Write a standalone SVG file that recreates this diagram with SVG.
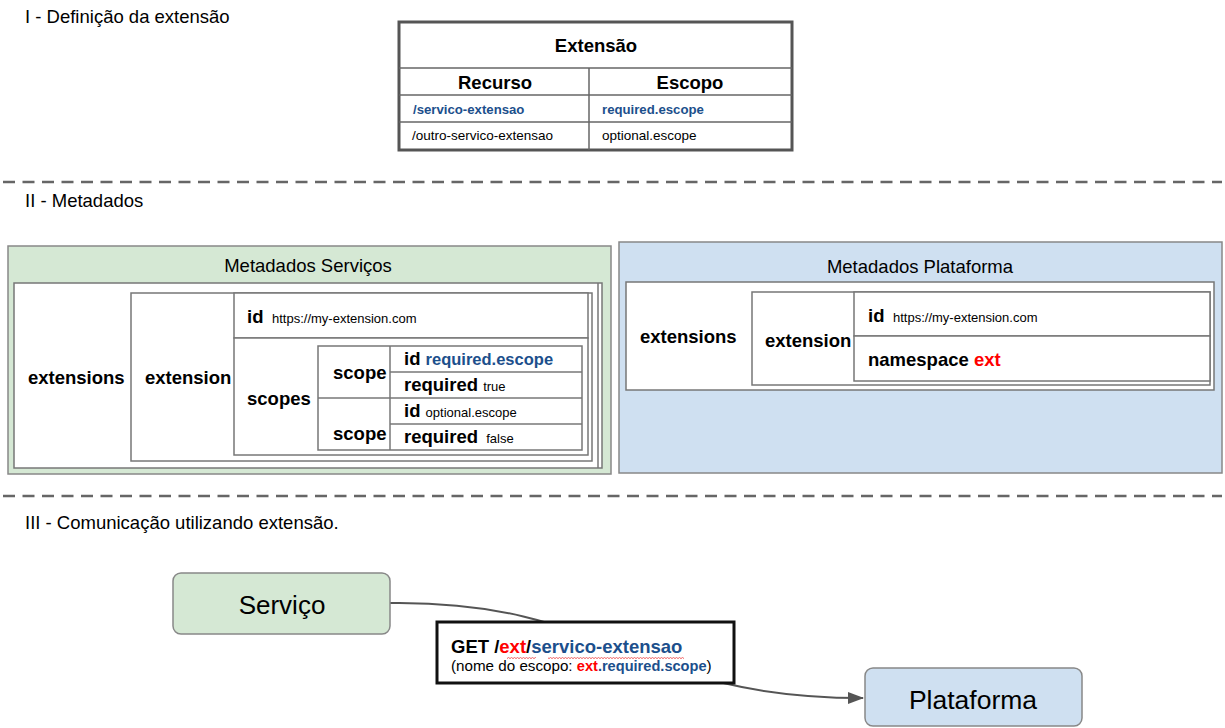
<svg xmlns="http://www.w3.org/2000/svg" width="1225" height="728" viewBox="0 0 1225 728">
<defs>
<marker id="arr" markerWidth="16" markerHeight="12" refX="15" refY="6" orient="auto" markerUnits="userSpaceOnUse">
<path d="M0,0 L16,6 L0,12 Z" fill="#555"/>
</marker>
<pattern id="sq" width="6" height="4" patternUnits="userSpaceOnUse">
<path d="M0,3 L1.5,1 L3,3 L4.5,1 L6,3" fill="none" stroke="#f06060" stroke-width="0.8"/>
</pattern>
</defs>
<style>
text{font-family:"Liberation Sans",Arial,sans-serif;fill:#000}
.sec{font-size:18.5px}
.b{font-weight:bold}
.blue{fill:#1c4f8c}
.red{fill:#ff0000}
.cell{fill:#fff;stroke:#777;stroke-width:1.5}
.line{stroke:#777;stroke-width:1.5}
.dash{stroke:#666;stroke-width:2.5;stroke-dasharray:12 7.5}
</style>
<rect width="1225" height="728" fill="#fff"/>

<text class="sec" x="25" y="23">I - Definição da extensão</text>
<text class="sec" x="25" y="207">II - Metadados</text>
<text class="sec" x="25" y="529">III - Comunicação utilizando extensão.</text>
<line class="dash" x1="3" y1="182" x2="1222" y2="182"/>
<line class="dash" x1="3" y1="496" x2="1222" y2="496"/>

<g id="tabela-extensao">
<rect x="399" y="22" width="393" height="128" fill="#fff" stroke="#555" stroke-width="3"/>
<line x1="399" y1="68" x2="792" y2="68" stroke="#666" stroke-width="1.5"/>
<line x1="399" y1="95" x2="792" y2="95" stroke="#666" stroke-width="1.5"/>
<line x1="399" y1="122" x2="792" y2="122" stroke="#666" stroke-width="1.5"/>
<line x1="589" y1="68" x2="589" y2="150" stroke="#666" stroke-width="1.5"/>
<text class="b" x="596" y="52" font-size="18.5" text-anchor="middle">Extensão</text>
<text class="b" x="495" y="89" font-size="18.5" text-anchor="middle">Recurso</text>
<text class="b" x="690" y="89" font-size="18.5" text-anchor="middle">Escopo</text>
<text class="b blue" x="413" y="114" font-size="13.2">/servico-extensao</text>
<text class="b blue" x="602" y="114" font-size="13.2">required.escope</text>
<text x="412" y="140" font-size="13.5">/outro-servico-extensao</text>
<text x="602" y="140" font-size="13.5">optional.escope</text>
</g>

<g id="metadados-servicos">
<rect x="8" y="246" width="603" height="228" fill="#d5e8d4" stroke="#888" stroke-width="1.5"/>
<text x="308" y="272" font-size="18.5" text-anchor="middle">Metadados Serviços</text>
<rect class="cell" x="14" y="283" width="588" height="185"/>
<line class="line" x1="598" y1="283" x2="598" y2="468"/>
<text class="b" x="28" y="384" font-size="18.5">extensions</text>
<rect class="cell" x="131" y="293" width="461" height="168"/>
<text class="b" x="145" y="384" font-size="18.5">extension</text>
<rect class="cell" x="234" y="293" width="354" height="45"/>
<text class="b" x="247" y="323" font-size="18.5">id</text>
<text x="272" y="323" font-size="13">https://my-extension.com</text>
<rect class="cell" x="234" y="338" width="354" height="117"/>
<text class="b" x="247" y="405" font-size="18.5">scopes</text>
<rect class="cell" x="318" y="346" width="264" height="104"/>
<line class="line" x1="390" y1="346" x2="390" y2="450"/>
<line class="line" x1="390" y1="372" x2="582" y2="372"/>
<line class="line" x1="318" y1="398" x2="582" y2="398"/>
<line class="line" x1="390" y1="424" x2="582" y2="424"/>
<text class="b" x="333" y="379" font-size="18.5">scope</text>
<text class="b" x="333" y="440" font-size="18.5">scope</text>
<text class="b" x="404" y="365" font-size="18.5">id <tspan class="blue" font-size="16.5">required.escope</tspan></text>
<text class="b" x="404" y="391" font-size="18.5">required <tspan font-weight="normal" font-size="13">true</tspan></text>
<text class="b" x="404" y="417" font-size="18.5">id <tspan font-weight="normal" font-size="13">optional.escope</tspan></text>
<text class="b" x="404" y="443" font-size="18.5">required <tspan font-weight="normal" font-size="13" dx="3">false</tspan></text>
</g>

<g id="metadados-plataforma">
<rect x="619" y="242" width="603" height="231" fill="#cfe0f1" stroke="#888" stroke-width="1.5"/>
<text x="920" y="273" font-size="18.5" text-anchor="middle">Metadados Plataforma</text>
<rect class="cell" x="626" y="282" width="588" height="108"/>
<text class="b" x="640" y="343" font-size="18.5">extensions</text>
<rect class="cell" x="752" y="292" width="458" height="93"/>
<text class="b" x="765" y="347" font-size="18.5">extension</text>
<rect class="cell" x="854" y="292" width="356" height="44"/>
<text class="b" x="868" y="322" font-size="18.5">id</text>
<text x="893" y="322" font-size="13">https://my-extension.com</text>
<rect class="cell" x="854" y="336" width="356" height="45"/>
<text class="b" x="868" y="366" font-size="18.5">namespace <tspan class="red">ext</tspan></text>
</g>

<g id="connectors">
<path d="M390,603 C610,600 630,698 863,698" fill="none" stroke="#555" stroke-width="2" marker-end="url(#arr)"/>
</g>

<g id="servico">
<rect x="173" y="573" width="217" height="61" rx="8" fill="#d5e8d4" stroke="#888" stroke-width="1.5"/>
<text x="282" y="614" font-size="26" text-anchor="middle">Serviço</text>
</g>

<g id="plataforma">
<rect x="865" y="668" width="217" height="58" rx="8" fill="#cfe0f1" stroke="#888" stroke-width="1.5"/>
<text x="973" y="709" font-size="26.5" text-anchor="middle">Plataforma</text>
</g>

<g id="label">
<rect x="437" y="622" width="297" height="61" fill="#fff" stroke="#111" stroke-width="3"/>
<text class="b" x="451" y="653" font-size="18.5">GET /<tspan class="red">ext</tspan>/<tspan class="blue">servico-extensao</tspan></text>
<rect x="507" y="656" width="29" height="4" fill="url(#sq)"/>
<rect x="548" y="656" width="136" height="4" fill="url(#sq)"/>
<text x="451" y="671" font-size="15.2">(nome do escopo: <tspan class="b red" font-size="14.6">ext</tspan><tspan class="b blue" font-size="14.6">.required.scope</tspan>)</text>
</g>
</svg>
